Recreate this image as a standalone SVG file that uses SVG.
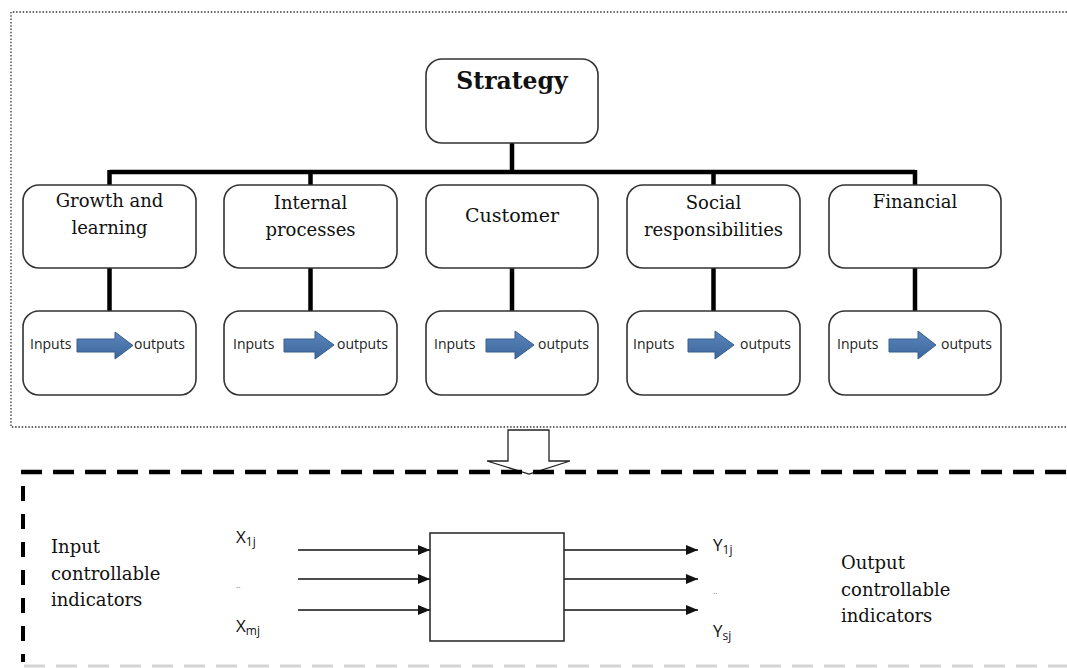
<svg xmlns="http://www.w3.org/2000/svg" width="1067" height="668" viewBox="0 0 1067 668">
<defs>
<linearGradient id="blue" x1="0" y1="0" x2="0" y2="1">
<stop offset="0" stop-color="#5a86bb"/>
<stop offset="1" stop-color="#3c679c"/>
</linearGradient>
<marker id="ah" markerWidth="12" markerHeight="10" refX="12" refY="5" orient="auto" markerUnits="userSpaceOnUse">
<path d="M0,0 L12,5 L0,10 Z" fill="#111"/>
</marker>
<style>
.box{fill:#fff;stroke:#333;stroke-width:1.6}
.conn{stroke:#000;stroke-width:4.5;fill:none}
.lbl{font-family:"DejaVu Serif","Liberation Serif",serif;font-size:18px;fill:#111;text-anchor:middle}
.side{font-family:"DejaVu Serif","Liberation Serif",serif;font-size:18px;fill:#111}
.io{font-family:"Open Sans","Liberation Sans",sans-serif;font-size:14px;fill:#222}
.var{font-family:"Open Sans","Liberation Sans",sans-serif;font-size:17px;fill:#111}
.sub{font-size:12px}
.barr{fill:url(#blue);stroke:#3a5f8e;stroke-width:1}
.thin{stroke:#111;stroke-width:1.5;fill:none}
</style>
</defs>
<rect width="1067" height="668" fill="#fff"/>
<path d="M1067,12 H11 V427 H1067" fill="none" stroke="#333" stroke-width="1.3" stroke-dasharray="1.5 1.8"/>
<g id="connectors">
<path class="conn" d="M512,143 V172 M109.5,172 H915 M109.5,170 V185 M310.5,170 V185 M713.5,170 V185 M915,170 V185"/>
<path class="conn" d="M109.5,268 V311 M310.5,268 V311 M512,268 V311 M713.5,268 V311 M915,268 V311"/>
<path class="thin" marker-end="url(#ah)" d="M298,550 H430"/>
<path class="thin" marker-end="url(#ah)" d="M298,579 H430"/>
<path class="thin" marker-end="url(#ah)" d="M298,610 H430"/>
<path class="thin" marker-end="url(#ah)" d="M564,550 H698"/>
<path class="thin" marker-end="url(#ah)" d="M564,579 H698"/>
<path class="thin" marker-end="url(#ah)" d="M564,610 H698"/>
</g>
<g id="strategy">
<rect class="box" x="426" y="59" width="172" height="84" rx="16"/>
<text x="512" y="89" style="font-family:'DejaVu Serif','Liberation Serif',serif;font-size:23.5px;font-weight:bold;text-anchor:middle;fill:#111">Strategy</text>
</g>
<g id="growth">
<rect class="box" x="23" y="185" width="173" height="83" rx="16"/>
<text class="lbl" x="109.5" y="207">Growth and</text>
<text class="lbl" x="109.5" y="234">learning</text>
</g>
<g id="internal">
<rect class="box" x="224" y="185" width="173" height="83" rx="16"/>
<text class="lbl" x="310.5" y="209">Internal</text>
<text class="lbl" x="310.5" y="236">processes</text>
</g>
<g id="customer">
<rect class="box" x="426" y="185" width="172" height="83" rx="16"/>
<text class="lbl" x="512" y="222" style="font-size:19px">Customer</text>
</g>
<g id="social">
<rect class="box" x="627" y="185" width="173" height="83" rx="16"/>
<text class="lbl" x="713.5" y="209">Social</text>
<text class="lbl" x="713.5" y="236">responsibilities</text>
</g>
<g id="financial">
<rect class="box" x="829" y="185" width="172" height="83" rx="16"/>
<text class="lbl" x="915" y="208">Financial</text>
</g>
<g id="io1">
<rect class="box" x="23" y="311" width="173" height="84" rx="16"/>
<text class="io" x="30" y="349">Inputs</text>
<path class="barr" d="M77,339 H115 V332 L133,345.5 L115,359 V352 H77 Z"/>
<text class="io" x="134" y="349">outputs</text>
</g>
<g id="io2">
<rect class="box" x="224" y="311" width="173" height="84" rx="16"/>
<text class="io" x="233" y="349">Inputs</text>
<path class="barr" d="M284,339 H315 V331 L334,345 L315,359 V352 H284 Z"/>
<text class="io" x="337" y="349">outputs</text>
</g>
<g id="io3">
<rect class="box" x="426" y="311" width="172" height="84" rx="16"/>
<text class="io" x="434" y="349">Inputs</text>
<path class="barr" d="M486,339 H515 V331 L534,345 L515,359 V352 H486 Z"/>
<text class="io" x="538" y="349">outputs</text>
</g>
<g id="io4">
<rect class="box" x="627" y="311" width="173" height="84" rx="16"/>
<text class="io" x="633" y="349">Inputs</text>
<path class="barr" d="M688,339 H715 V331 L734,345 L715,359 V352 H688 Z"/>
<text class="io" x="740" y="349">outputs</text>
</g>
<g id="io5">
<rect class="box" x="829" y="311" width="172" height="84" rx="16"/>
<text class="io" x="837" y="349">Inputs</text>
<path class="barr" d="M889,339 H918 V331 L936,345 L918,359 V352 H889 Z"/>
<text class="io" x="941" y="349">outputs</text>
</g>
<g id="down-arrow">
<path d="M508,430 H549 V461 H570 L529,474 L487,461 H508 Z" fill="#fff" stroke="#222" stroke-width="1.3"/>
</g>
<path d="M21,472 H1067" stroke="#000" stroke-width="4.5" stroke-dasharray="21 11" fill="none"/>
<path d="M23,486 V662" stroke="#000" stroke-width="4" stroke-dasharray="15 13" fill="none"/>
<path d="M24,666 H1067" stroke="#d4d4d4" stroke-width="3" stroke-dasharray="21 11" fill="none"/>
<g id="process">
<rect x="430" y="533" width="134" height="108" fill="#fff" stroke="#222" stroke-width="1.5"/>
</g>
<g id="input-label">
<text class="side" x="51" y="553">Input</text>
<text class="side" x="51" y="580">controllable</text>
<text class="side" x="51" y="606">indicators</text>
</g>
<g id="output-label">
<text class="side" x="841" y="569">Output</text>
<text class="side" x="841" y="596">controllable</text>
<text class="side" x="841" y="622">indicators</text>
</g>
<g id="x-labels">
<text class="var" x="236" y="543">X<tspan class="sub" dy="3">1j</tspan></text>
<text class="var" x="236" y="588" style="font-size:9px;fill:#777">..</text>
<text class="var" x="236" y="632">X<tspan class="sub" dy="3">mj</tspan></text>
</g>
<g id="y-labels">
<text class="var" x="713" y="551">Y<tspan class="sub" dy="3">1j</tspan></text>
<text class="var" x="713" y="594" style="font-size:9px;fill:#777">..</text>
<text class="var" x="713" y="637">Y<tspan class="sub" dy="3">sj</tspan></text>
</g>
</svg>
